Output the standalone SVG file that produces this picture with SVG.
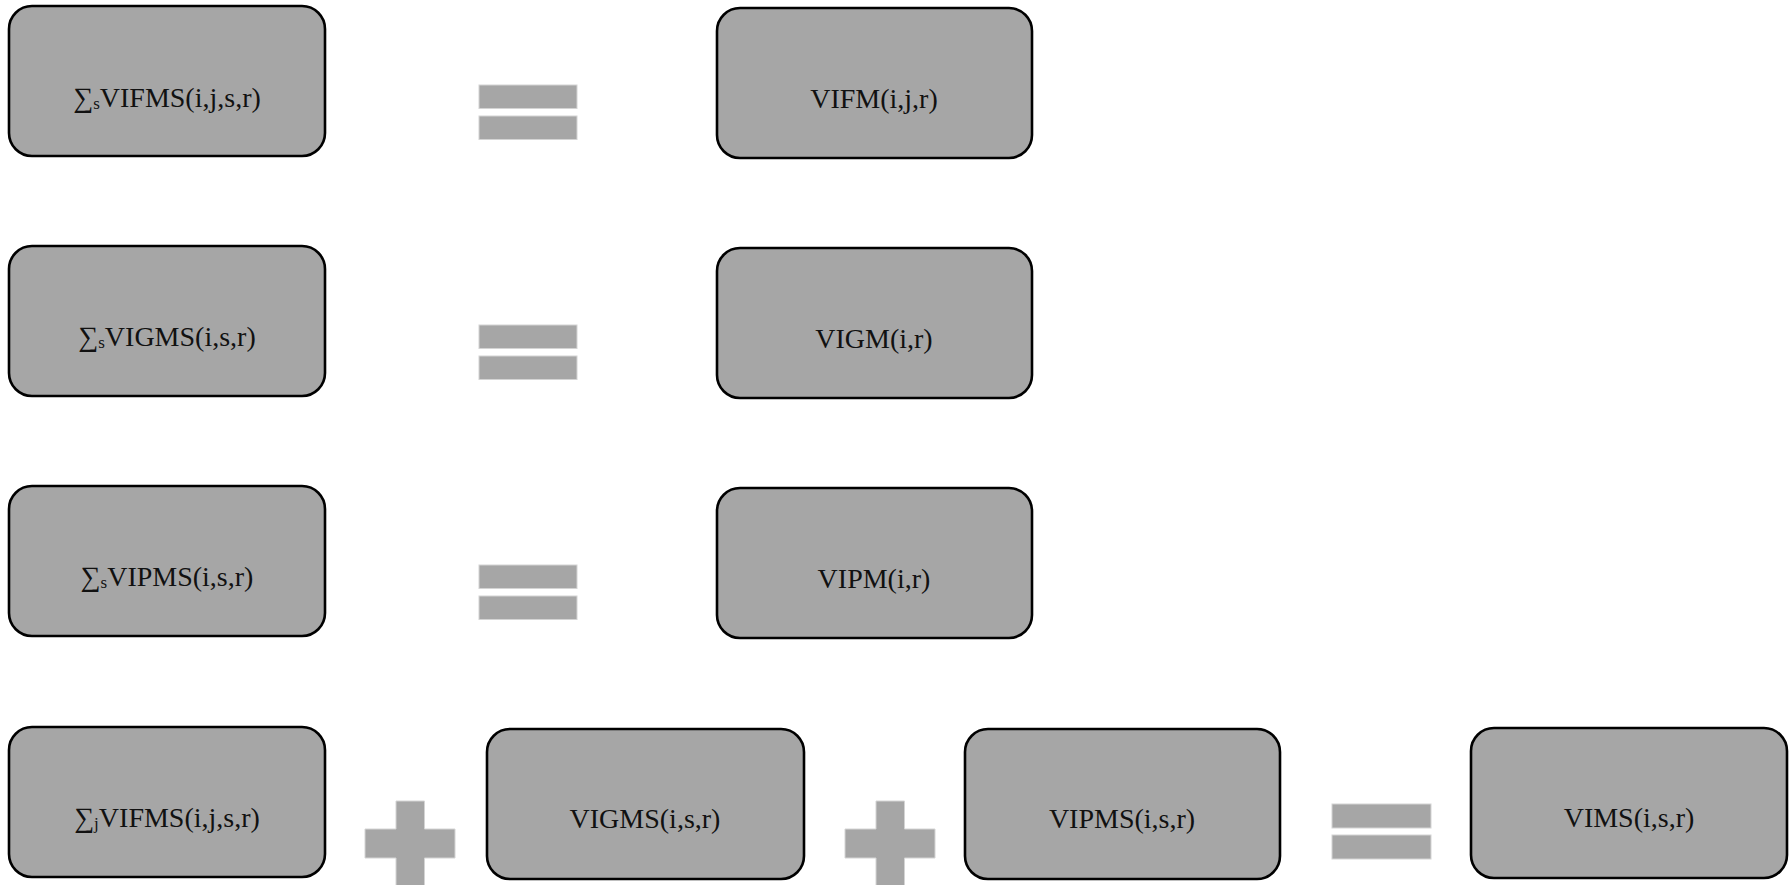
<svg xmlns="http://www.w3.org/2000/svg" width="1790" height="885" viewBox="0 0 1790 885">
  <style>
    .box { fill: #a6a6a6; stroke: #000; stroke-width: 2.6; }
    .lbl { font-family: "Liberation Serif", "DejaVu Serif", serif; font-size: 28px; fill: #111; text-anchor: middle; }
    .sub { font-size: 17px; }
    .op { fill: #a6a6a6; stroke: #d4d4d4; stroke-width: 1; }
  </style>
  <rect width="1790" height="885" fill="#fff"/>

  <!-- row 1 -->
  <g id="sum-vifms-s">
    <rect class="box" x="9" y="6" width="316" height="150" rx="23"/>
    <text class="lbl" x="167" y="107">∑<tspan class="sub" dy="2">s</tspan><tspan dy="-2">VIFMS(i,j,s,r)</tspan></text>
  </g>
  <g id="vifm">
    <rect class="box" x="717" y="8" width="315" height="150" rx="23"/>
    <text class="lbl" x="874" y="108">VIFM(i,j,r)</text>
  </g>

  <!-- row 2 -->
  <g id="sum-vigms-s">
    <rect class="box" x="9" y="246" width="316" height="150" rx="23"/>
    <text class="lbl" x="167" y="346">∑<tspan class="sub" dy="2">s</tspan><tspan dy="-2">VIGMS(i,s,r)</tspan></text>
  </g>
  <g id="vigm">
    <rect class="box" x="717" y="248" width="315" height="150" rx="23"/>
    <text class="lbl" x="874" y="348">VIGM(i,r)</text>
  </g>

  <!-- row 3 -->
  <g id="sum-vipms-s">
    <rect class="box" x="9" y="486" width="316" height="150" rx="23"/>
    <text class="lbl" x="167" y="586">∑<tspan class="sub" dy="2">s</tspan><tspan dy="-2">VIPMS(i,s,r)</tspan></text>
  </g>
  <g id="vipm">
    <rect class="box" x="717" y="488" width="315" height="150" rx="23"/>
    <text class="lbl" x="874" y="588">VIPM(i,r)</text>
  </g>

  <!-- row 4 -->
  <g id="sum-vifms-j">
    <rect class="box" x="9" y="727" width="316" height="150" rx="23"/>
    <text class="lbl" x="167" y="827">∑<tspan class="sub" dy="2">j</tspan><tspan dy="-2">VIFMS(i,j,s,r)</tspan></text>
  </g>
  <g id="vigms">
    <rect class="box" x="487" y="729" width="317" height="150" rx="23"/>
    <text class="lbl" x="645" y="828">VIGMS(i,s,r)</text>
  </g>
  <g id="vipms">
    <rect class="box" x="965" y="729" width="315" height="150" rx="23"/>
    <text class="lbl" x="1122" y="828">VIPMS(i,s,r)</text>
  </g>
  <g id="vims">
    <rect class="box" x="1471" y="728" width="316" height="150" rx="23"/>
    <text class="lbl" x="1629" y="827">VIMS(i,s,r)</text>
  </g>

  <!-- operator signs between the terms -->
  <g id="operators">
    <rect class="op" x="479" y="85" width="98" height="23.5"/>
    <rect class="op" x="479" y="116" width="98" height="23.5"/>

    <rect class="op" x="479" y="325" width="98" height="23.5"/>
    <rect class="op" x="479" y="356" width="98" height="23.5"/>

    <rect class="op" x="479" y="565" width="98" height="23.5"/>
    <rect class="op" x="479" y="596" width="98" height="23.5"/>

    <path class="op" d="M396 801 H424.5 V829 H455 V858 H424.5 V890 H396 V858 H365 V829 H396 Z"/>
    <path class="op" d="M876 801 H904.5 V829 H935 V858 H904.5 V890 H876 V858 H845 V829 H876 Z"/>

    <rect class="op" x="1332" y="804" width="99" height="24"/>
    <rect class="op" x="1332" y="835" width="99" height="24"/>
  </g>
</svg>
